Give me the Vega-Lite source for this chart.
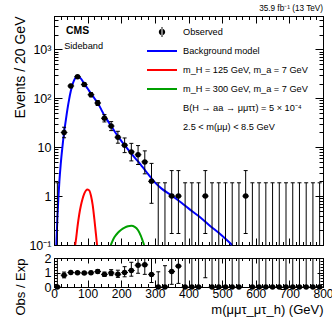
{
  "$schema": "https://vega.github.io/schema/vega-lite/v6.json",
  "padding": {"left": 12, "top": 3, "right": 0, "bottom": 0},
  "background": "white",
  "config": {
    "font": "Liberation Sans",
    "view": {"stroke": "black", "strokeWidth": 1},
    "axis": {"domainColor": "black", "tickColor": "black", "labelColor": "black", "titleColor": "black", "labelFont": "Liberation Sans", "titleFont": "Liberation Sans", "titleFontWeight": "normal", "grid": false, "labelOverlap": false, "labelFlush": false, "labelBound": false, "tickWidth": 1, "domainWidth": 1}
  },
  "datasets": {
    "bkg": [
      {"x": 7, "y": 0.1}, {"x": 10, "y": 0.35}, {"x": 13, "y": 0.9}, {"x": 16, "y": 2.0}, {"x": 20, "y": 4.5}, {"x": 25, "y": 10}, {"x": 30, "y": 20}, {"x": 35, "y": 35}, {"x": 40, "y": 60}, {"x": 45, "y": 95}, {"x": 50, "y": 140}, {"x": 55, "y": 190}, {"x": 60, "y": 235}, {"x": 65, "y": 268}, {"x": 70, "y": 280}, {"x": 75, "y": 272}, {"x": 80, "y": 252}, {"x": 90, "y": 198}, {"x": 100, "y": 158}, {"x": 110, "y": 124}, {"x": 120, "y": 100}, {"x": 130, "y": 80}, {"x": 140, "y": 60}, {"x": 150, "y": 44}, {"x": 160, "y": 34.5}, {"x": 170, "y": 27}, {"x": 180, "y": 21.2}, {"x": 190, "y": 16.8}, {"x": 200, "y": 13.5}, {"x": 210, "y": 11}, {"x": 220, "y": 9}, {"x": 230, "y": 7.4}, {"x": 240, "y": 6.1}, {"x": 250, "y": 5.1}, {"x": 260, "y": 4.2}, {"x": 270, "y": 3.45}, {"x": 280, "y": 2.8}, {"x": 290, "y": 2.3}, {"x": 300, "y": 1.9}, {"x": 320, "y": 1.42}, {"x": 350, "y": 1.03}, {"x": 380, "y": 0.72}, {"x": 400, "y": 0.56}, {"x": 430, "y": 0.39}, {"x": 460, "y": 0.26}, {"x": 500, "y": 0.155}, {"x": 530, "y": 0.1}
    ],
    "s125": [
      {"x": 63, "y": 0.1}, {"x": 66, "y": 0.14}, {"x": 70, "y": 0.24}, {"x": 75, "y": 0.42}, {"x": 80, "y": 0.64}, {"x": 85, "y": 0.88}, {"x": 90, "y": 1.12}, {"x": 95, "y": 1.3}, {"x": 100, "y": 1.37}, {"x": 105, "y": 1.3}, {"x": 110, "y": 1.02}, {"x": 115, "y": 0.66}, {"x": 120, "y": 0.34}, {"x": 125, "y": 0.16}, {"x": 128, "y": 0.1}
    ],
    "s300": [
      {"x": 169, "y": 0.1}, {"x": 175, "y": 0.125}, {"x": 180, "y": 0.145}, {"x": 190, "y": 0.178}, {"x": 200, "y": 0.205}, {"x": 210, "y": 0.226}, {"x": 220, "y": 0.241}, {"x": 230, "y": 0.247}, {"x": 240, "y": 0.235}, {"x": 250, "y": 0.2}, {"x": 258, "y": 0.155}, {"x": 264, "y": 0.12}, {"x": 268, "y": 0.1}
    ],
    "obs": [
      {"x": 10, "xlo": 0, "xhi": 20, "n": 0, "lo": 0, "hi": 1.87},
      {"x": 30, "xlo": 20, "xhi": 40, "n": 20, "lo": 15.57, "hi": 25.55},
      {"x": 50, "xlo": 40, "xhi": 60, "n": 178, "lo": 164.7, "hi": 192.4},
      {"x": 70, "xlo": 60, "xhi": 80, "n": 275, "lo": 258.4, "hi": 292.6},
      {"x": 90, "xlo": 80, "xhi": 100, "n": 190, "lo": 176.2, "hi": 204.8},
      {"x": 110, "xlo": 100, "xhi": 120, "n": 118, "lo": 107.2, "hi": 129.9},
      {"x": 130, "xlo": 120, "xhi": 140, "n": 80, "lo": 71.1, "hi": 90.0},
      {"x": 150, "xlo": 140, "xhi": 160, "n": 39, "lo": 32.8, "hi": 46.3},
      {"x": 170, "xlo": 160, "xhi": 180, "n": 27, "lo": 21.8, "hi": 33.3},
      {"x": 190, "xlo": 180, "xhi": 200, "n": 16, "lo": 12.05, "hi": 21.1},
      {"x": 210, "xlo": 200, "xhi": 220, "n": 11, "lo": 7.74, "hi": 15.43},
      {"x": 230, "xlo": 220, "xhi": 240, "n": 8, "lo": 5.24, "hi": 11.96},
      {"x": 250, "xlo": 240, "xhi": 260, "n": 7, "lo": 4.42, "hi": 10.78},
      {"x": 270, "xlo": 260, "xhi": 280, "n": 5, "lo": 2.85, "hi": 8.4},
      {"x": 290, "xlo": 280, "xhi": 300, "n": 2, "lo": 0.712, "hi": 4.66},
      {"x": 310, "xlo": 300, "xhi": 320, "n": 0, "lo": 0, "hi": 1.87},
      {"x": 330, "xlo": 320, "xhi": 340, "n": 0, "lo": 0, "hi": 1.87},
      {"x": 350, "xlo": 340, "xhi": 360, "n": 1, "lo": 0.172, "hi": 3.32},
      {"x": 370, "xlo": 360, "xhi": 380, "n": 1, "lo": 0.172, "hi": 3.32},
      {"x": 390, "xlo": 380, "xhi": 400, "n": 0, "lo": 0, "hi": 1.87},
      {"x": 410, "xlo": 400, "xhi": 420, "n": 0, "lo": 0, "hi": 1.87},
      {"x": 430, "xlo": 420, "xhi": 440, "n": 0, "lo": 0, "hi": 1.87},
      {"x": 450, "xlo": 440, "xhi": 460, "n": 1, "lo": 0.172, "hi": 3.32},
      {"x": 470, "xlo": 460, "xhi": 480, "n": 0, "lo": 0, "hi": 1.87},
      {"x": 490, "xlo": 480, "xhi": 500, "n": 0, "lo": 0, "hi": 1.87},
      {"x": 510, "xlo": 500, "xhi": 520, "n": 0, "lo": 0, "hi": 1.87},
      {"x": 530, "xlo": 520, "xhi": 540, "n": 0, "lo": 0, "hi": 1.87},
      {"x": 550, "xlo": 540, "xhi": 560, "n": 0, "lo": 0, "hi": 1.87},
      {"x": 570, "xlo": 560, "xhi": 580, "n": 1, "lo": 0.172, "hi": 3.32},
      {"x": 590, "xlo": 580, "xhi": 600, "n": 0, "lo": 0, "hi": 1.87},
      {"x": 610, "xlo": 600, "xhi": 620, "n": 0, "lo": 0, "hi": 1.87},
      {"x": 630, "xlo": 620, "xhi": 640, "n": 0, "lo": 0, "hi": 1.87},
      {"x": 650, "xlo": 640, "xhi": 660, "n": 0, "lo": 0, "hi": 1.87},
      {"x": 670, "xlo": 660, "xhi": 680, "n": 0, "lo": 0, "hi": 1.87},
      {"x": 690, "xlo": 680, "xhi": 700, "n": 0, "lo": 0, "hi": 1.87},
      {"x": 710, "xlo": 700, "xhi": 720, "n": 0, "lo": 0, "hi": 1.87},
      {"x": 730, "xlo": 720, "xhi": 740, "n": 0, "lo": 0, "hi": 1.87},
      {"x": 750, "xlo": 740, "xhi": 760, "n": 0, "lo": 0, "hi": 1.87},
      {"x": 770, "xlo": 760, "xhi": 780, "n": 0, "lo": 0, "hi": 1.87},
      {"x": 790, "xlo": 780, "xhi": 800, "n": 0, "lo": 0, "hi": 1.87}
    ],
    "ratio": [
      {"x": 10, "xlo": 0, "xhi": 20, "r": 0, "rlo": 0, "rhi": 2.34},
      {"x": 30, "xlo": 20, "xhi": 40, "r": 0.81, "rlo": 0.63, "rhi": 1.03},
      {"x": 50, "xlo": 40, "xhi": 60, "r": 1.0, "rlo": 0.925, "rhi": 1.081},
      {"x": 70, "xlo": 60, "xhi": 80, "r": 0.98, "rlo": 0.921, "rhi": 1.043},
      {"x": 90, "xlo": 80, "xhi": 100, "r": 0.96, "rlo": 0.89, "rhi": 1.035},
      {"x": 110, "xlo": 100, "xhi": 120, "r": 0.98, "rlo": 0.89, "rhi": 1.079},
      {"x": 130, "xlo": 120, "xhi": 140, "r": 1.07, "rlo": 0.95, "rhi": 1.203},
      {"x": 150, "xlo": 140, "xhi": 160, "r": 0.87, "rlo": 0.732, "rhi": 1.033},
      {"x": 170, "xlo": 160, "xhi": 180, "r": 0.97, "rlo": 0.784, "rhi": 1.198},
      {"x": 190, "xlo": 180, "xhi": 200, "r": 0.88, "rlo": 0.662, "rhi": 1.159},
      {"x": 210, "xlo": 200, "xhi": 220, "r": 1.0, "rlo": 0.704, "rhi": 1.403},
      {"x": 230, "xlo": 220, "xhi": 240, "r": 1.14, "rlo": 0.746, "rhi": 1.704},
      {"x": 250, "xlo": 240, "xhi": 260, "r": 1.5, "rlo": 0.947, "rhi": 2.31},
      {"x": 270, "xlo": 260, "xhi": 280, "r": 1.53, "rlo": 0.872, "rhi": 2.57},
      {"x": 290, "xlo": 280, "xhi": 300, "r": 0.87, "rlo": 0.31, "rhi": 2.03},
      {"x": 310, "xlo": 300, "xhi": 320, "r": 0, "rlo": 0, "rhi": 1.05},
      {"x": 330, "xlo": 320, "xhi": 340, "r": 0, "rlo": 0, "rhi": 1.47},
      {"x": 350, "xlo": 340, "xhi": 360, "r": 1.07, "rlo": 0.184, "rhi": 3.55},
      {"x": 370, "xlo": 360, "xhi": 380, "r": 1.44, "rlo": 0.248, "rhi": 4.78},
      {"x": 390, "xlo": 380, "xhi": 400, "r": 0, "rlo": 0, "rhi": 2.75},
      {"x": 410, "xlo": 400, "xhi": 420, "r": 0, "rlo": 0, "rhi": 3.34},
      {"x": 430, "xlo": 420, "xhi": 440, "r": 0, "rlo": 0, "rhi": 4.45},
      {"x": 450, "xlo": 440, "xhi": 460, "r": 3.7, "rlo": 0.64, "rhi": 12.3},
      {"x": 470, "xlo": 460, "xhi": 480, "r": 0, "rlo": 0, "rhi": 7.5},
      {"x": 490, "xlo": 480, "xhi": 500, "r": 0, "rlo": 0, "rhi": 9.8},
      {"x": 510, "xlo": 500, "xhi": 520, "r": 0, "rlo": 0, "rhi": 12.5},
      {"x": 530, "xlo": 520, "xhi": 540, "r": 0, "rlo": 0, "rhi": 17},
      {"x": 550, "xlo": 540, "xhi": 560, "r": 0, "rlo": 0, "rhi": 22},
      {"x": 570, "xlo": 560, "xhi": 580, "r": 16, "rlo": 2.8, "rhi": 55},
      {"x": 590, "xlo": 580, "xhi": 600, "r": 0, "rlo": 0, "rhi": 36},
      {"x": 610, "xlo": 600, "xhi": 620, "r": 0, "rlo": 0, "rhi": 47},
      {"x": 630, "xlo": 620, "xhi": 640, "r": 0, "rlo": 0, "rhi": 60},
      {"x": 650, "xlo": 640, "xhi": 660, "r": 0, "rlo": 0, "rhi": 78},
      {"x": 670, "xlo": 660, "xhi": 680, "r": 0, "rlo": 0, "rhi": 100},
      {"x": 690, "xlo": 680, "xhi": 700, "r": 0, "rlo": 0, "rhi": 130},
      {"x": 710, "xlo": 700, "xhi": 720, "r": 0, "rlo": 0, "rhi": 170},
      {"x": 730, "xlo": 720, "xhi": 740, "r": 0, "rlo": 0, "rhi": 220},
      {"x": 750, "xlo": 740, "xhi": 760, "r": 0, "rlo": 0, "rhi": 280},
      {"x": 770, "xlo": 760, "xhi": 780, "r": 0, "rlo": 0, "rhi": 360},
      {"x": 790, "xlo": 780, "xhi": 800, "r": 0, "rlo": 0, "rhi": 470}
    ],
    "legend": [
      {"entry": "Observed"},
      {"entry": "Background model"},
      {"entry": "m_H = 125 GeV, m_a = 7 GeV"},
      {"entry": "m_H = 300 GeV, m_a = 7 GeV"},
      {"entry": "B(H → aa → μμττ) = 5 × 10⁻⁴"},
      {"entry": "2.5 < m(μμ) < 8.5 GeV"}
    ]
  },
  "vconcat": [
    {
      "width": 269,
      "height": 229,
      "title": {"text": "35.9 fb⁻¹ (13 TeV)", "anchor": "end", "fontSize": 8.2, "fontWeight": "normal", "font": "Liberation Sans", "color": "black", "offset": 1, "frame": "group"},
      "layer": [
        {
          "data": {"name": "bkg"},
          "mark": {"type": "line", "color": "#0000ff", "strokeWidth": 2, "interpolate": "monotone"},
          "encoding": {
            "x": {"field": "x", "type": "quantitative", "scale": {"domain": [0, 800], "nice": false, "zero": false},
              "axis": {"orient": "bottom", "values": [0,20,40,60,80,100,120,140,160,180,200,220,240,260,280,300,320,340,360,380,400,420,440,460,480,500,520,540,560,580,600,620,640,660,680,700,720,740,760,780,800], "labels": false, "title": null, "tickSize": {"condition": {"test": "datum.value % 100 == 0", "value": -7}, "value": -3.5}, "minExtent": 0, "maxExtent": 0}},
            "y": {"field": "y", "type": "quantitative", "scale": {"type": "log", "domain": [0.1, 4800], "nice": false, "clamp": true},
              "axis": {"orient": "left", "values": [0.1,0.2,0.3,0.4,0.5,0.6,0.7,0.8,0.9,1,2,3,4,5,6,7,8,9,10,20,30,40,50,60,70,80,90,100,200,300,400,500,600,700,800,900,1000,2000,3000,4000],
                "labelExpr": "datum.value == 0.1 ? '10⁻¹' : datum.value == 1 ? '1' : datum.value == 10 ? '10' : datum.value == 100 ? '10²' : datum.value == 1000 ? '10³' : ''",
                "labelFontSize": 12.5, "labelPadding": 11,
                "tickSize": {"condition": {"test": "datum.value == 0.1 || datum.value == 1 || datum.value == 10 || datum.value == 100 || datum.value == 1000", "value": -8}, "value": -4},
                "title": "Events / 20 GeV", "titleFontSize": 14, "titleAnchor": "end", "titlePadding": 6.5, "minExtent": 20, "maxExtent": 20}}
          }
        },
        {
          "data": {"name": "s125"},
          "mark": {"type": "line", "color": "#ff0000", "strokeWidth": 2, "interpolate": "monotone"},
          "encoding": {
            "x": {"field": "x", "type": "quantitative", "scale": {"domain": [0, 800], "nice": false, "zero": false},
              "axis": {"orient": "top", "values": [0,20,40,60,80,100,120,140,160,180,200,220,240,260,280,300,320,340,360,380,400,420,440,460,480,500,520,540,560,580,600,620,640,660,680,700,720,740,760,780,800], "labels": false, "title": null, "tickSize": {"condition": {"test": "datum.value % 100 == 0", "value": -7}, "value": -3.5}, "minExtent": 0, "maxExtent": 0}},
            "y": {"field": "y", "type": "quantitative", "scale": {"type": "log", "domain": [0.1, 4800], "nice": false, "clamp": true},
              "axis": {"orient": "right", "values": [0.1,0.2,0.3,0.4,0.5,0.6,0.7,0.8,0.9,1,2,3,4,5,6,7,8,9,10,20,30,40,50,60,70,80,90,100,200,300,400,500,600,700,800,900,1000,2000,3000,4000], "labels": false, "title": null,
                "tickSize": {"condition": {"test": "datum.value == 0.1 || datum.value == 1 || datum.value == 10 || datum.value == 100 || datum.value == 1000", "value": -8}, "value": -4}, "minExtent": 0, "maxExtent": 0}}
          }
        },
        {
          "data": {"name": "s300"},
          "mark": {"type": "line", "color": "#00a000", "strokeWidth": 2, "interpolate": "monotone"},
          "encoding": {
            "x": {"field": "x", "type": "quantitative", "scale": {"domain": [0, 800], "nice": false, "zero": false}, "axis": null},
            "y": {"field": "y", "type": "quantitative", "scale": {"type": "log", "domain": [0.1, 4800], "nice": false, "clamp": true}, "axis": null}
          }
        },
        {
          "data": {"name": "obs"},
          "mark": {"type": "rule", "color": "black", "strokeWidth": 1},
          "encoding": {
            "x": {"field": "x", "type": "quantitative", "scale": {"domain": [0, 800], "nice": false, "zero": false}, "axis": null},
            "y": {"field": "lo", "type": "quantitative", "scale": {"type": "log", "domain": [0.1, 4800], "nice": false, "clamp": true}, "axis": null},
            "y2": {"field": "hi"}
          }
        },
        {
          "data": {"name": "obs"},
          "mark": {"type": "tick", "orient": "horizontal", "size": 4, "thickness": 1, "color": "black", "opacity": 1},
          "encoding": {
            "x": {"field": "x", "type": "quantitative", "scale": {"domain": [0, 800], "nice": false, "zero": false}, "axis": null},
            "y": {"field": "hi", "type": "quantitative", "scale": {"type": "log", "domain": [0.1, 4800], "nice": false, "clamp": true}, "axis": null}
          }
        },
        {
          "data": {"name": "obs"},
          "transform": [{"filter": "datum.lo > 0"}],
          "mark": {"type": "tick", "orient": "horizontal", "size": 4, "thickness": 1, "color": "black", "opacity": 1},
          "encoding": {
            "x": {"field": "x", "type": "quantitative", "scale": {"domain": [0, 800], "nice": false, "zero": false}, "axis": null},
            "y": {"field": "lo", "type": "quantitative", "scale": {"type": "log", "domain": [0.1, 4800], "nice": false, "clamp": true}, "axis": null}
          }
        },
        {
          "data": {"name": "obs"},
          "transform": [{"filter": "datum.n > 0"}],
          "mark": {"type": "rule", "color": "black", "strokeWidth": 1},
          "encoding": {
            "x": {"field": "xlo", "type": "quantitative", "scale": {"domain": [0, 800], "nice": false, "zero": false}, "axis": null},
            "x2": {"field": "xhi"},
            "y": {"field": "n", "type": "quantitative", "scale": {"type": "log", "domain": [0.1, 4800], "nice": false, "clamp": true}, "axis": null}
          }
        },
        {
          "data": {"name": "obs"},
          "transform": [{"filter": "datum.n > 0"}],
          "mark": {"type": "point", "shape": "circle", "filled": true, "color": "black", "size": 30, "opacity": 1},
          "encoding": {
            "x": {"field": "x", "type": "quantitative", "scale": {"domain": [0, 800], "nice": false, "zero": false}, "axis": null},
            "y": {"field": "n", "type": "quantitative", "scale": {"type": "log", "domain": [0.1, 4800], "nice": false, "clamp": true}, "axis": null}
          }
        },
        {
          "data": {"name": "legend"},
          "mark": {"type": "point", "filled": true, "opacity": 0, "strokeWidth": 0},
          "encoding": {
            "color": {"field": "entry", "type": "nominal",
              "scale": {"domain": ["Observed", "Background model", "m_H = 125 GeV, m_a = 7 GeV", "m_H = 300 GeV, m_a = 7 GeV", "B(H → aa → μμττ) = 5 × 10⁻⁴", "2.5 < m(μμ) < 8.5 GeV"], "range": ["black", "#0000ff", "#ff0000", "#00a000", "black", "black"]},
              "legend": {"title": null, "orient": "none", "legendX": 103, "legendY": 11, "labelFontSize": 9.2, "labelFont": "Liberation Sans", "labelColor": "black", "symbolSize": 100, "symbolStrokeWidth": 0, "symbolOpacity": 1, "labelOffset": 16, "rowPadding": 8, "padding": 0, "labelLimit": 300}},
            "shape": {"field": "entry", "type": "nominal",
              "scale": {"domain": ["Observed", "Background model", "m_H = 125 GeV, m_a = 7 GeV", "m_H = 300 GeV, m_a = 7 GeV", "B(H → aa → μμττ) = 5 × 10⁻⁴", "2.5 < m(μμ) < 8.5 GeV"],
                "range": ["M-0.1,-1H0.1V1H-0.1ZM-0.64,0A0.64,0.64,0,1,0,0.64,0A0.64,0.64,0,1,0,-0.64,0Z", "M-3,-0.2H3V0.2H-3Z", "M-3,-0.2H3V0.2H-3Z", "M-3,-0.2H3V0.2H-3Z", "M0,0", "M0,0"]},
              "legend": {"title": null, "orient": "none", "legendX": 103, "legendY": 11, "labelFontSize": 9.2, "labelFont": "Liberation Sans", "labelColor": "black", "symbolSize": 100, "symbolStrokeWidth": 0, "symbolOpacity": 1, "labelOffset": 16, "rowPadding": 8, "padding": 0, "labelLimit": 300}}
          }
        },
        {
          "data": {"values": [{"tag": "Sideband"}]},
          "mark": {"type": "point", "opacity": 0},
          "encoding": {
            "stroke": {"field": "tag", "type": "nominal", "scale": {"range": ["white"]},
              "legend": {"title": "CMS", "titleFontSize": 10.4, "titleFontWeight": "bold", "titleFont": "Liberation Sans", "titleColor": "black", "labelFontSize": 9.2, "labelFont": "Liberation Sans", "labelColor": "black", "orient": "none", "legendX": 12, "legendY": 10, "symbolOpacity": 0, "symbolSize": 0, "labelOffset": -11, "titlePadding": 5, "padding": 0}}
          }
        }
      ],
      "resolve": {"axis": {"x": "independent", "y": "independent"}}
    },
    {
      "width": 269,
      "height": 29,
      "layer": [
        {
          "mark": {"type": "rule", "color": "black", "strokeWidth": 0.8, "strokeDash": [3, 2]},
          "encoding": {
            "y": {"datum": 1, "type": "quantitative", "scale": {"domain": [0, 2], "nice": false, "zero": false, "clamp": true},
              "axis": {"orient": "left", "values": [0,0.2,0.4,0.6,0.8,1,1.2,1.4,1.6,1.8,2], "labelExpr": "datum.value == 0 ? '0' : datum.value == 1 ? '1' : datum.value == 2 ? '2' : ''", "labelFontSize": 12.5, "labelPadding": 9,
                "tickSize": {"condition": {"test": "datum.value == 0 || datum.value == 1 || datum.value == 2", "value": -6}, "value": -3},
                "title": "Obs / Exp", "titleFontSize": 13, "titleAnchor": "end", "titlePadding": 6.5, "minExtent": 20, "maxExtent": 20}}
          }
        },
        {
          "data": {"name": "ratio"},
          "transform": [{"filter": "datum.rlo < 2"}],
          "mark": {"type": "rule", "color": "black", "strokeWidth": 1},
          "encoding": {
            "x": {"field": "x", "type": "quantitative", "scale": {"domain": [0, 800], "nice": false, "zero": false},
              "axis": {"orient": "bottom", "values": [0,20,40,60,80,100,120,140,160,180,200,220,240,260,280,300,320,340,360,380,400,420,440,460,480,500,520,540,560,580,600,620,640,660,680,700,720,740,760,780,800], "labelExpr": "datum.value % 100 == 0 ? datum.label : ''", "labelFontSize": 12, "labelPadding": 8.5,
                "tickSize": {"condition": {"test": "datum.value % 100 == 0", "value": -7}, "value": -3.5},
                "title": "m(μμτ_μτ_h) (GeV)", "titleFontSize": 13, "titleAnchor": "end", "titlePadding": 0}},
            "y": {"field": "rlo", "type": "quantitative", "scale": {"domain": [0, 2], "nice": false, "zero": false, "clamp": true}, "axis": null},
            "y2": {"field": "rhi"}
          }
        },
        {
          "data": {"name": "ratio"},
          "transform": [{"filter": "datum.r <= 2"}],
          "mark": {"type": "rule", "color": "black", "strokeWidth": 1},
          "encoding": {
            "x": {"field": "xlo", "type": "quantitative", "scale": {"domain": [0, 800], "nice": false, "zero": false},
              "axis": {"orient": "top", "values": [0,20,40,60,80,100,120,140,160,180,200,220,240,260,280,300,320,340,360,380,400,420,440,460,480,500,520,540,560,580,600,620,640,660,680,700,720,740,760,780,800], "labels": false, "title": null, "tickSize": {"condition": {"test": "datum.value % 100 == 0", "value": -5}, "value": -2.5}, "minExtent": 0, "maxExtent": 0}},
            "x2": {"field": "xhi"},
            "y": {"field": "r", "type": "quantitative", "scale": {"domain": [0, 2], "nice": false, "zero": false, "clamp": true},
              "axis": {"orient": "right", "values": [0,0.2,0.4,0.6,0.8,1,1.2,1.4,1.6,1.8,2], "labels": false, "title": null, "tickSize": {"condition": {"test": "datum.value == 0 || datum.value == 1 || datum.value == 2", "value": -6}, "value": -3}, "minExtent": 0, "maxExtent": 0}}
          }
        },
        {
          "data": {"name": "ratio"},
          "transform": [{"filter": "datum.rhi < 2"}],
          "mark": {"type": "tick", "orient": "horizontal", "size": 4, "thickness": 1, "color": "black", "opacity": 1},
          "encoding": {
            "x": {"field": "x", "type": "quantitative", "scale": {"domain": [0, 800], "nice": false, "zero": false}, "axis": null},
            "y": {"field": "rhi", "type": "quantitative", "scale": {"domain": [0, 2], "nice": false, "zero": false, "clamp": true}, "axis": null}
          }
        },
        {
          "data": {"name": "ratio"},
          "transform": [{"filter": "datum.rlo > 0 && datum.rlo < 2"}],
          "mark": {"type": "tick", "orient": "horizontal", "size": 4, "thickness": 1, "color": "black", "opacity": 1},
          "encoding": {
            "x": {"field": "x", "type": "quantitative", "scale": {"domain": [0, 800], "nice": false, "zero": false}, "axis": null},
            "y": {"field": "rlo", "type": "quantitative", "scale": {"domain": [0, 2], "nice": false, "zero": false, "clamp": true}, "axis": null}
          }
        },
        {
          "data": {"name": "ratio"},
          "transform": [{"filter": "datum.r <= 2"}],
          "mark": {"type": "point", "shape": "circle", "filled": true, "color": "black", "size": 30, "opacity": 1},
          "encoding": {
            "x": {"field": "x", "type": "quantitative", "scale": {"domain": [0, 800], "nice": false, "zero": false}, "axis": null},
            "y": {"field": "r", "type": "quantitative", "scale": {"domain": [0, 2], "nice": false, "zero": false, "clamp": true}, "axis": null}
          }
        }
      ],
      "resolve": {"axis": {"x": "independent", "y": "independent"}}
    }
  ],
  "spacing": 13,
  "bounds": "flush"
}
